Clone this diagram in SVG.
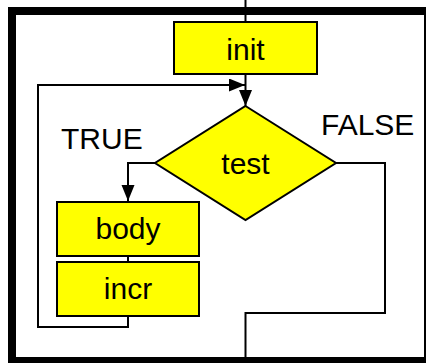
<svg xmlns="http://www.w3.org/2000/svg" width="426" height="363" viewBox="0 0 426 363">
  <style>
    .box { fill: #ffff00; stroke: #000; stroke-width: 2; }
    .wire { fill: none; stroke: #000; stroke-width: 2; }
    .lbl { font-family: "Liberation Sans", Arial, sans-serif; font-size: 30px; fill: #000; }
    .mid { text-anchor: middle; }
  </style>
  <defs>
    <marker id="arrow" markerUnits="userSpaceOnUse" markerWidth="17" markerHeight="14" refX="16" refY="6.5" orient="auto">
      <path d="M0 0 L16 6.5 L0 13 Z" fill="#000"/>
    </marker>
  </defs>

  <rect width="426" height="363" fill="#fff"/>
  <!-- enclosing frame -->
  <rect x="12" y="11" width="416" height="350" fill="none" stroke="#000" stroke-width="8"/>

  <g id="connectors">
    <path class="wire" d="M245.5 0 V22"/>
    <path class="wire" d="M245.5 74 V106" marker-end="url(#arrow)"/>
    <path class="wire" d="M155 163 H128 V201" marker-end="url(#arrow)"/>
    <path class="wire" d="M128 256 V262"/>
    <path class="wire" d="M128 316 V327 H38 V85 H245" marker-end="url(#arrow)"/>
    <path class="wire" d="M336 163 H385 V313 H245.5 V357"/>
  </g>

  <g id="init">
    <rect class="box" x="174" y="22" width="143" height="52"/>
    <text class="lbl mid" x="245.5" y="60">init</text>
  </g>

  <g id="test">
    <polygon class="box" points="245.5,106 336,163 245.5,220 155,163"/>
    <text class="lbl mid" x="245.5" y="174">test</text>
  </g>

  <g id="body">
    <rect class="box" x="57" y="202" width="142" height="54"/>
    <text class="lbl mid" x="128" y="239">body</text>
  </g>

  <g id="incr">
    <rect class="box" x="57" y="262" width="142" height="54"/>
    <text class="lbl mid" x="128" y="299">incr</text>
  </g>

  <text id="true-label" class="lbl" x="61" y="149">TRUE</text>
  <text id="false-label" class="lbl" x="321" y="135">FALSE</text>
</svg>
